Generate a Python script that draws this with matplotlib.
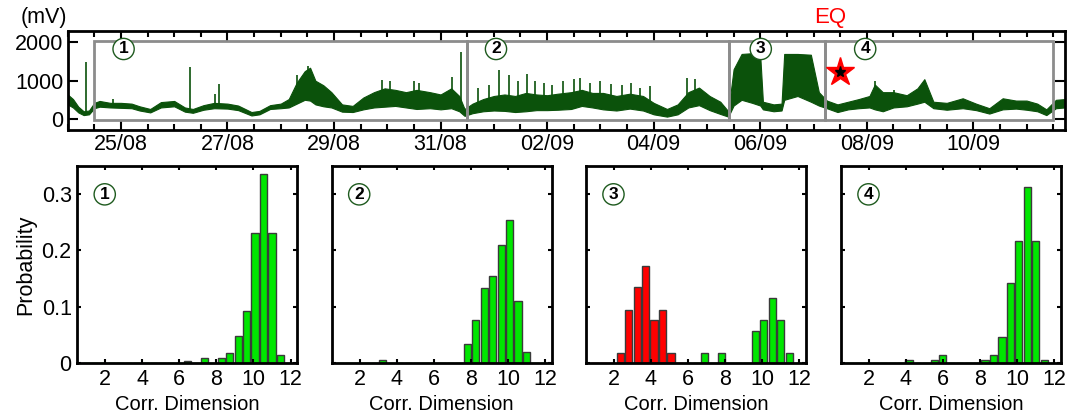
import numpy as np
import matplotlib
matplotlib.use('Agg')
import matplotlib.pyplot as plt
from matplotlib.ticker import MultipleLocator, FixedLocator
from matplotlib.patches import Rectangle

plt.rcParams['font.family'] = ['Liberation Sans', 'DejaVu Sans']

######## TOP PANEL DATA (days since 24/08 00:00, mV) ########
t_env = [0.00, 0.10, 0.20, 0.30, 0.40, 0.50, 0.60, 0.80, 1.00, 1.20, 1.35, 1.55, 1.75, 2.00,
         2.20, 2.35, 2.55, 2.75, 3.00, 3.20, 3.45, 3.60, 3.80, 4.00, 4.15, 4.30, 4.45, 4.55,
         4.65, 4.80, 4.95, 5.15, 5.35, 5.55, 5.75, 5.95, 6.15, 6.35, 6.55, 6.80, 7.00, 7.20,
         7.35, 7.45, 7.60, 7.80, 8.00, 8.20, 8.40, 8.60, 8.80, 9.00, 9.20, 9.45, 9.65, 9.85,
         10.05, 10.30, 10.55, 10.80, 11.00, 11.25, 11.45, 11.65, 11.85, 12.05, 12.25, 12.40,
         12.50, 12.65, 12.85, 13.00, 13.05, 13.25, 13.40, 13.45, 13.70, 13.95, 14.10, 14.25,
         14.45, 14.65, 14.85, 15.05, 15.15, 15.30, 15.50, 15.75, 15.95, 16.08, 16.25, 16.50,
         16.80, 17.05, 17.30, 17.55, 17.80, 18.00, 18.20, 18.37, 18.55, 18.72]
low_env = [380, 300, 170, 100, 120, 280, 320, 300, 290, 280, 220, 170, 300, 330,
           190, 160, 240, 280, 270, 230, 90, 120, 260, 280, 300, 400, 500, 480,
           380, 330, 300, 190, 180, 250, 300, 320, 340, 300, 260, 280, 250, 280,
           200, 80, 150, 200, 220, 210, 180, 200, 230, 230, 240, 260, 340, 300,
           250, 220, 270, 220, 120, 60, 120, 300, 360, 230, 130, 60,
           350, 500, 420, 350, 250, 200, 220, 500, 600, 450, 350, 280,
           180, 250, 280, 300, 250, 200, 300, 330, 400, 450, 280, 240,
           280, 230, 140, 250, 270, 240, 200, 100, 280, 300]
high_env = [640, 520, 320, 200, 220, 420, 470, 420, 420, 400, 330, 260, 440, 470,
            300, 260, 360, 420, 400, 350, 180, 210, 360, 400, 520, 950, 1250, 1340,
            1000, 880, 700, 380, 340, 560, 700, 800, 760, 700, 760, 700, 640, 800,
            600, 260, 400, 520, 600, 640, 600, 680, 640, 620, 660, 700, 760, 680,
            680, 600, 660, 600, 420, 260, 380, 700, 820, 600, 450, 200,
            1300, 1700, 1720, 1650, 450, 380, 400, 1700, 1700, 1680, 700, 480,
            380, 450, 520, 600, 900, 700, 700, 620, 800, 1040, 450, 420,
            540, 400, 280, 540, 480, 480, 400, 250, 500, 520]

spike_t = [0.34, 0.86, 2.30, 2.77, 2.84, 4.30, 4.52, 5.90, 6.05, 6.50, 6.60, 7.22, 7.39,
           7.70, 7.90, 8.10, 8.28, 8.45, 8.62, 8.78, 8.95, 9.10, 9.30, 9.50, 9.62, 9.80,
           10.00, 10.20, 10.40, 10.58, 10.75, 10.93, 11.62, 11.78, 15.15, 15.52]
spike_base = [200, 330, 200, 320, 320, 400, 500, 320, 330, 260, 270, 280, 250,
              170, 210, 220, 200, 190, 200, 230, 230, 240, 250, 260, 340, 300,
              260, 240, 250, 270, 230, 220, 300, 360, 250, 350]
spike_top = [1480, 530, 1350, 660, 910, 1150, 1380, 1030, 980, 1000, 940, 1090, 1740,
             800, 900, 1290, 1150, 1000, 1180, 1000, 950, 880, 1000, 1050, 1060, 950,
             1000, 920, 880, 930, 800, 850, 1070, 1050, 1000, 750]

date_ticks = [1, 3, 5, 7, 9, 11, 13, 15, 17]
date_labels = ['25/08', '27/08', '29/08', '31/08', '02/09', '04/09', '06/09', '08/09', '10/09']

window_edges = [0.5, 7.49, 12.41, 14.22, 18.49]
window_names = ['1', '2', '3', '4']
eq_day = 14.49
eq_mv = 1227

######## HISTOGRAM DATA ########
bin_centers = np.linspace(0.98, 11.91, 25)
prob_1 = [0, 0, 0, 0, 0, 0, 0, 0, 0, 0, 0, 0, 0.004, 0, 0.009, 0, 0.009, 0.019, 0.049,
          0.093, 0.231, 0.335, 0.231, 0.014, 0]
prob_2 = [0, 0, 0, 0, 0, 0.006, 0, 0, 0, 0, 0, 0, 0, 0, 0, 0.034, 0.076, 0.133, 0.154,
          0.21, 0.253, 0.111, 0.020, 0, 0]
prob_3 = [0, 0, 0, 0.018, 0.095, 0.135, 0.173, 0.076, 0.095, 0.018, 0, 0, 0, 0.018, 0,
          0.018, 0, 0, 0, 0.057, 0.076, 0.115, 0.076, 0.018, 0]
prob_4 = [0, 0, 0, 0, 0, 0, 0, 0.006, 0, 0, 0.006, 0.015, 0, 0, 0, 0, 0.006, 0.015, 0.047,
          0.143, 0.217, 0.3125, 0.217, 0.006, 0]
probs = [prob_1, prob_2, prob_3, prob_4]
low_dim_limit = 5.8   # panel 3 bars below this are red

######## STYLE ########
sig_color = '#0b520b'
box_color = '#8c8c8c'
green = '#00e600'
red = '#ff0000'
edge = '#3a3a3a'
circ_color = '#1e5a1e'

fig = plt.figure(figsize=(10.67, 4.18), dpi=100)

######## TOP PANEL ########
ax = fig.add_axes([0.0634, 0.689, 0.9347, 0.2377])
ax.fill_between(t_env, low_env, high_env, color=sig_color, lw=0.8)
ax.vlines(spike_t, spike_base, spike_top, color=sig_color, lw=1.2)

label_offsets = [0.55, 0.55, 0.6, 0.75]
for i in range(4):
    x0, x1 = window_edges[i], window_edges[i + 1]
    ax.add_patch(Rectangle((x0, -40), x1 - x0, 2080, fill=False, ec=box_color, lw=2, zorder=3))
    ax.text(x0 + label_offsets[i], 1830, window_names[i],
            fontsize=12.5, fontweight='bold', ha='center', va='center', zorder=5,
            bbox=dict(boxstyle='circle,pad=0.18', fc='white', ec=circ_color, lw=1))

ax.plot(eq_day, eq_mv, marker='*', ms=21, color=red, mec=red, zorder=6)
ax.plot(eq_day, eq_mv, marker='*', ms=8, color='black', zorder=7)
ax.annotate('EQ', xy=(14.32, 1.13), xycoords=('data', 'axes fraction'), color=red,
            fontsize=16, ha='center', va='center')

ax.set_xlim(0, 18.72)
ax.set_ylim(-290, 2310)
ax.set_yticks([0, 1000, 2000])
ax.xaxis.set_major_locator(FixedLocator(date_ticks))
ax.set_xticklabels(date_labels)
ax.xaxis.set_minor_locator(MultipleLocator(0.5))
ax.tick_params(which='both', direction='in', top=True, right=True, labelsize=15.5, width=1.5)
ax.tick_params(which='major', length=7, pad=3)
ax.tick_params(which='minor', length=4)
for s in ax.spines.values():
    s.set_linewidth(2)
fig.text(0.041, 0.957, '(mV)', fontsize=15.5, ha='center', va='center')

######## BOTTOM PANELS ########
lefts = [0.0724, 0.3109, 0.5492, 0.7882]
for i in range(4):
    bx = fig.add_axes([lefts[i], 0.1309, 0.2060, 0.4727])
    vals = probs[i]
    colors = []
    for c in bin_centers:
        colors.append(red if (i == 2 and c < low_dim_limit) else green)
    edges = [edge if v > 0 else col for v, col in zip(vals, colors)]
    bx.bar(bin_centers, vals, width=0.39, color=colors, edgecolor=edges, lw=1)
    bx.set_xlim(0.5, 12.35)
    bx.set_ylim(0, 0.35)
    bx.set_xticks([2, 4, 6, 8, 10, 12])
    bx.set_yticks([0, 0.1, 0.2, 0.3])
    bx.set_yticklabels(['0', '0.1', '0.2', '0.3'])
    bx.tick_params(direction='in', top=True, right=True, labelsize=15.5, length=3, width=1.5,
                   pad=4)
    if i > 0:
        bx.tick_params(labelleft=False)
    else:
        bx.set_ylabel('Probability', fontsize=15.5, labelpad=4)
    bx.set_xlabel('Corr. Dimension', fontsize=14.5, labelpad=4)
    for s in bx.spines.values():
        s.set_linewidth(2)
    bx.text(0.125, 0.855, window_names[i], transform=bx.transAxes, fontsize=12.5,
            fontweight='bold', ha='center', va='center',
            bbox=dict(boxstyle='circle,pad=0.18', fc='white', ec=circ_color, lw=1))

fig.savefig('out.png', dpi=100)
